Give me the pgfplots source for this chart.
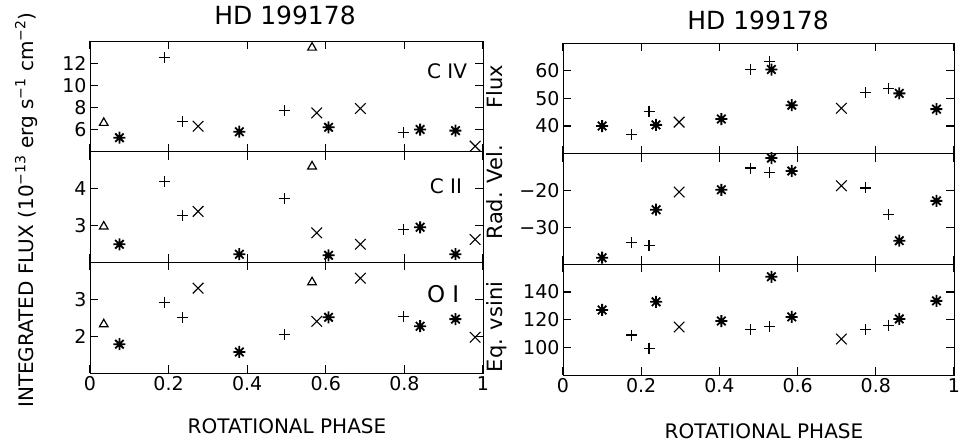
\documentclass[border=0pt]{standalone}
\usepackage{fontspec}
\setmainfont{DejaVu Sans}
\usepackage{pgfplots}
\pgfplotsset{compat=1.18}
\usepackage{pgfplotstable}

% IDL-style asterisk: plus and cross together
\pgfdeclareplotmark{idlast}{%
  \pgfpathmoveto{\pgfqpoint{0pt}{\pgfplotmarksize}}%
  \pgfpathlineto{\pgfqpoint{0pt}{-\pgfplotmarksize}}%
  \pgfpathmoveto{\pgfqpoint{\pgfplotmarksize}{0pt}}%
  \pgfpathlineto{\pgfqpoint{-\pgfplotmarksize}{0pt}}%
  \pgfpathmoveto{\pgfqpoint{.707\pgfplotmarksize}{.707\pgfplotmarksize}}%
  \pgfpathlineto{\pgfqpoint{-.707\pgfplotmarksize}{-.707\pgfplotmarksize}}%
  \pgfpathmoveto{\pgfqpoint{-.707\pgfplotmarksize}{.707\pgfplotmarksize}}%
  \pgfpathlineto{\pgfqpoint{.707\pgfplotmarksize}{-.707\pgfplotmarksize}}%
  \pgfusepathqstroke}

% left: integrated fluxes (C IV, C II, O I)
\pgfplotstableread{
ph    civ   cii   oi
0.035 6.6   2.97  2.32
0.565 13.4  4.60  3.46
}\ltri
\pgfplotstableread{
ph    civ   cii   oi
0.075 5.26  2.49  1.78
0.380 5.8   2.22  1.57
0.607 6.2   2.19  2.51
0.840 6.0   2.95  2.27
0.930 5.9   2.22  2.46
}\lstar
\pgfplotstableread{
ph    civ   cii   oi
0.190 12.5  4.19  2.92
0.235 6.7   3.27  2.51
0.495 7.7   3.73  2.05
0.797 5.7   2.89  2.54
}\lplus
\pgfplotstableread{
ph    civ   cii   oi
0.275 6.3   3.38  3.30
0.577 7.5   2.80  2.40
0.688 7.9   2.49  3.57
0.980 4.5   2.62  1.97
}\lcross

% right: flux, radial velocity, eq. vsini
\pgfplotstableread{
ph    flux  rv     vs
0.100 40.0  -38.2  127
0.238 40.4  -25.2  132.9
0.405 42.5  -19.8  119
0.533 60.4  -11.2  151
0.585 47.5  -14.7  122
0.860 51.8  -33.6  120.5
0.955 46.1  -22.8  133.6
}\rstar
\pgfplotstableread{
ph    flux  rv     vs
0.175 36.8  -34.1  108.9
0.220 45.4  -34.9  99.4
0.480 60.4  -13.9  113
0.527 63.2  -15.2  115
0.773 52.1  -19.3  113
0.832 53.6  -26.6  116
}\rplus
\pgfplotstableread{
ph    flux  rv     vs
0.297 41.4  -20.4  114.7
0.712 46.4  -18.7  106
}\rcross

\pgfplotsset{
  panel/.style={
    scale only axis, anchor=south west,
    height=110.67pt,
    xmin=0, xmax=1,
    xtick={0,0.2,0.4,0.6,0.8,1},
    xticklabels={},
    major tick length=8pt,
    tick style={draw=black, line width=1.2pt},
    tick label style={font=\fontsize{19}{19}\selectfont},
    /pgf/number format/assume math mode=true,
  },
  bottompanel/.style={
    xticklabels={0,0.2,0.4,0.6,0.8,1},
  },
  sast/.style={only marks, mark=idlast, mark size=6pt, line width=1.8pt, draw=black},
  splus/.style={only marks, mark=+, mark size=5.5pt, line width=1.1pt, draw=black},
  scross/.style={only marks, mark=x, mark size=7.5pt, line width=1.1pt, draw=black},
  stri/.style={only marks, mark=triangle, mark size=5pt, line width=1.2pt, draw=black},
}

\newcommand{\labfont}{\fontsize{20}{20}\selectfont}

\begin{document}
\begin{tikzpicture}
\useasboundingbox (0,0) rectangle (965pt,442pt);

% ---------- left column ----------
\begin{axis}[panel, width=393pt, at={(90pt,290.33pt)},
  ymin=4, ymax=14, ytick={6,8,10,12}]
\addplot[stri]   table[x=ph,y=civ] {\ltri};
\addplot[sast]   table[x=ph,y=civ] {\lstar};
\addplot[splus]  table[x=ph,y=civ] {\lplus};
\addplot[scross] table[x=ph,y=civ] {\lcross};
\node[anchor=north east, inner sep=0pt, font=\labfont] at (rel axis cs:0.96,0.80) {C IV};
\end{axis}

\begin{axis}[panel, width=393pt, at={(90pt,179.67pt)},
  ymin=2, ymax=5, ytick={3,4}]
\addplot[stri]   table[x=ph,y=cii] {\ltri};
\addplot[sast]   table[x=ph,y=cii] {\lstar};
\addplot[splus]  table[x=ph,y=cii] {\lplus};
\addplot[scross] table[x=ph,y=cii] {\lcross};
\node[anchor=north east, inner sep=0pt, font=\labfont] at (rel axis cs:0.947,0.76) {C II};
\end{axis}

\begin{axis}[panel, bottompanel, width=393pt, at={(90pt,69pt)},
  ymin=1, ymax=4, ytick={2,3}]
\addplot[stri]   table[x=ph,y=oi] {\ltri};
\addplot[sast]   table[x=ph,y=oi] {\lstar};
\addplot[splus]  table[x=ph,y=oi] {\lplus};
\addplot[scross] table[x=ph,y=oi] {\lcross};
\node[anchor=north east, inner sep=0pt, font=\fontsize{23}{23}\selectfont] at (rel axis cs:0.94,0.795) {O I};
\end{axis}

% ---------- right column ----------
\begin{axis}[panel, width=391pt, at={(563pt,288.33pt)},
  ymin=30, ymax=70, ytick={40,50,60}]
\addplot[sast]   table[x=ph,y=flux] {\rstar};
\addplot[splus]  table[x=ph,y=flux] {\rplus};
\addplot[scross] table[x=ph,y=flux] {\rcross};
\end{axis}

\begin{axis}[panel, width=391pt, at={(563pt,177.67pt)},
  ymin=-40, ymax=-10, ytick={-30,-20}, yticklabels={−30,−20}]
\addplot[sast]   table[x=ph,y=rv] {\rstar};
\addplot[splus]  table[x=ph,y=rv] {\rplus};
\addplot[scross] table[x=ph,y=rv] {\rcross};
\end{axis}

\begin{axis}[panel, bottompanel, width=391pt, at={(563pt,67pt)},
  ymin=80, ymax=160, ytick={100,120,140}]
\addplot[sast]   table[x=ph,y=vs] {\rstar};
\addplot[splus]  table[x=ph,y=vs] {\rplus};
\addplot[scross] table[x=ph,y=vs] {\rcross};
\end{axis}

% ---------- titles and labels ----------
\node[anchor=base, font=\fontsize{25}{25}\selectfont] at (285pt,417pt) {HD 199178};
\node[anchor=base, font=\fontsize{25}{25}\selectfont] at (758pt,412pt) {HD 199178};
\node[anchor=base, font=\labfont] at (287pt,9pt) {ROTATIONAL PHASE};
\node[anchor=base, font=\labfont] at (764pt,4pt) {ROTATIONAL PHASE};
\node[anchor=base, rotate=90, font=\labfont] at (33pt,232pt)
  {INTEGRATED FLUX (10\textsuperscript{−13} erg s\textsuperscript{−1} cm\textsuperscript{−2})};
\node[anchor=base, rotate=90, font=\fontsize{21}{21}\selectfont] at (502pt,355pt) {Flux};
\node[anchor=base, rotate=90, font=\fontsize{21}{21}\selectfont] at (502pt,250pt) {Rad. Vel.};
\node[anchor=base, rotate=90, font=\fontsize{21}{21}\selectfont] at (502pt,115pt) {Eq. vsini};
\end{tikzpicture}
\end{document}
